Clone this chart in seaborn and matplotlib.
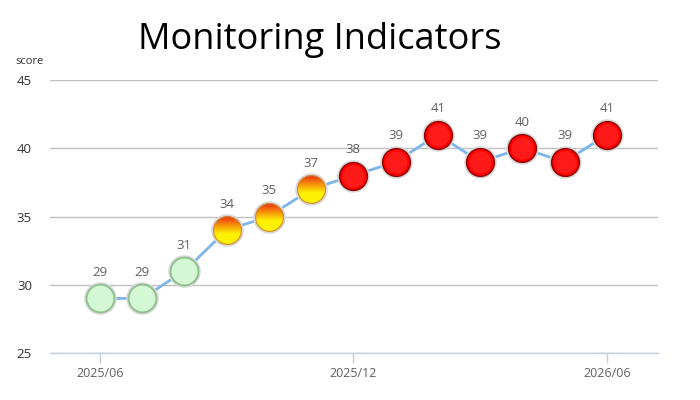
import matplotlib
matplotlib.use("Agg")
import matplotlib.pyplot as plt
import seaborn as sns
import pandas as pd
import numpy as np
from matplotlib.path import Path
from matplotlib.colors import to_rgb

months = ["2025/06", "2025/07", "2025/08", "2025/09", "2025/10", "2025/11", "2025/12",
          "2026/01", "2026/02", "2026/03", "2026/04", "2026/05", "2026/06"]
scores = [29, 29, 31, 34, 35, 37, 38, 39, 41, 39, 40, 39, 41]
levels = ["low", "low", "low", "mid", "mid", "mid", "high", "high", "high", "high", "high", "high", "high"]
tick_labels = ["2025/06", "2025/12", "2026/06"]

df = pd.DataFrame({"idx": range(len(months)), "month": months, "score": scores, "level": levels})

sns.set_theme(style="white")
plt.rcParams["font.family"] = ["Open Sans", "DejaVu Sans"]

fig = plt.figure(figsize=(7, 4), dpi=100)
ax = fig.add_axes([50/700, 1-353/400, 608/700, 273/400])

sns.lineplot(data=df, x="idx", y="score", ax=ax, color="#7CB5EC", lw=2, zorder=2)


def band_marker(y0, y1, n=40):
    """Horizontal slice of a unit circle, kept at its place inside the marker box."""
    ts = np.linspace(np.arcsin(y0), np.arcsin(y1), n)
    right = np.column_stack([np.cos(ts), np.sin(ts)])
    left = right[::-1] * np.array([-1, 1])
    poly = np.vstack([right, left, right[:1]])
    verts = np.vstack([[[-1, -1]], [[1, 1]], poly])
    codes = [Path.MOVETO, Path.MOVETO, Path.MOVETO] + [Path.LINETO] * (len(poly) - 2) + [Path.CLOSEPOLY]
    return Path(verts, codes)


ms = 20
ax.plot(df["idx"], df["score"], "o", ms=ms+2.4, color="#D8D8D8", zorder=3, lw=0)

low = df[df.level == "low"]
mid = df[df.level == "mid"]
high = df[df.level == "high"]

ax.plot(low["idx"], low["score"], "o", ms=ms, markerfacecolor="#D4F7D4",
        markeredgecolor="#8FBF8F", markeredgewidth=1.3, lw=0, zorder=4)

# gradient (red-orange top -> yellow bottom)
top_c = np.array(to_rgb("#EE2A10"))
yel_c = np.array(to_rgb("#FFF200"))
nb = 30
edges = np.linspace(1, -1, nb + 1)
for k in range(nb):
    y0, y1 = edges[k + 1], edges[k]
    mid_y = (y0 + y1) / 2
    t = np.clip((1 - mid_y) / 1.25, 0, 1)
    col = top_c * (1 - t) + yel_c * t
    ax.plot(mid["idx"], mid["score"], lw=0, marker=band_marker(y0, y1), ms=ms,
            markerfacecolor=col, markeredgecolor=col, markeredgewidth=0.5, zorder=4)
ax.plot(mid["idx"], mid["score"], "o", ms=ms, markerfacecolor="none",
        markeredgecolor="#D08A30", markeredgewidth=0.8, lw=0, zorder=5)

ax.plot(high["idx"], high["score"], "o", ms=ms, markerfacecolor="#FF0000",
        markeredgecolor="#8A0000", markeredgewidth=1.0, lw=0, zorder=4)
ax.plot(high["idx"], high["score"], "o", ms=ms*0.8, markerfacecolor="#FF1A1A",
        markeredgewidth=0, lw=0, zorder=5)

for i, s in zip(df["idx"], df["score"]):
    ax.annotate(str(s), (i, s), xytext=(0, 14), textcoords="offset points",
                ha="center", va="bottom", fontsize=9.5, color="#606060", zorder=6)

ax.set_xlim(-1.18, 13.21)
ax.set_ylim(25, 45)
ax.set_yticks([25, 30, 35, 40, 45])
ax.set_xticks([months.index(t) for t in tick_labels])
ax.set_xticklabels(tick_labels)
ax.set_xlabel("")
ax.set_ylabel("")
ax.grid(axis="y", color="#C0C0C0", lw=1)
ax.grid(axis="x", visible=False)
for side in ["top", "right", "left"]:
    ax.spines[side].set_visible(False)
ax.spines["bottom"].set_color("#C0D0E0")
ax.spines["bottom"].set_linewidth(1)
ax.tick_params(axis="x", colors="#606060", labelsize=9, length=7, width=1, direction="out",
               bottom=True, pad=3)
ax.tick_params(axis="x", color="#C0D0E0")
ax.tick_params(axis="y", colors="#333333", labelsize=9.5, length=0, pad=13)

fig.text(30/700, 1-62/400, "score", fontsize=8, color="#333333", ha="center", va="center")
fig.text(320/700, 1-40/400, "Monitoring Indicators", fontsize=26, color="#000000",
         ha="center", va="center")

fig.savefig("out.png", dpi=100)
